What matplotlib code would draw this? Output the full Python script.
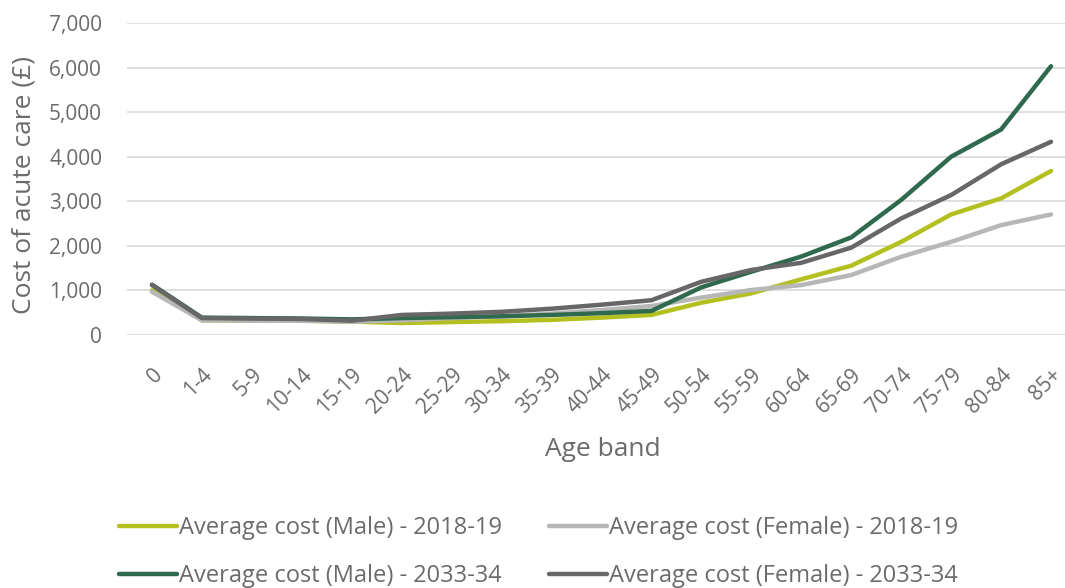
import matplotlib.pyplot as plt
import matplotlib.transforms as mtransforms
import numpy as np

plt.rcParams['font.family'] = ['Open Sans', 'DejaVu Sans']

age_bands = ['0', '1-4', '5-9', '10-14', '15-19', '20-24', '25-29', '30-34', '35-39',
             '40-44', '45-49', '50-54', '55-59', '60-64', '65-69', '70-74', '75-79',
             '80-84', '85+']

male_2018 = [1000, 330, 320, 320, 300, 270, 290, 310, 340, 390, 450, 725, 935, 1250,
             1555, 2090, 2705, 3065, 3680]
female_2018 = [970, 330, 320, 320, 300, 330, 380, 420, 480, 560, 650, 840, 1010, 1120,
               1345, 1755, 2090, 2465, 2705]
male_2033 = [1130, 390, 380, 370, 350, 380, 400, 420, 450, 490, 540, 1070, 1420, 1760,
             2190, 3030, 4000, 4610, 6030]
female_2033 = [1120, 380, 370, 360, 320, 450, 480, 520, 590, 680, 780, 1195, 1460, 1620,
               1960, 2615, 3140, 3830, 4335]

series = [
    ('Average cost (Male) - 2018-19', male_2018, '#b3c020'),
    ('Average cost (Female) - 2018-19', female_2018, '#b7b7b7'),
    ('Average cost (Male) - 2033-34', male_2033, '#2f6a4e'),
    ('Average cost (Female) - 2033-34', female_2033, '#676767'),
]

txt = '#6b6b6b'
fig = plt.figure(figsize=(10.65, 5.88), dpi=100)
ax = fig.add_axes([127 / 1065, 253 / 588, 949 / 1065, 312 / 588])

x = np.arange(len(age_bands))
lines = []
for name, vals, col in series:
    ln, = ax.plot(x, vals, color=col, lw=3.2, label=name, solid_capstyle='round',
                  solid_joinstyle='round')
    lines.append(ln)

ax.set_xlim(-0.5, len(age_bands) - 0.5)
ax.set_ylim(0, 7000)
ax.set_yticks(range(0, 7001, 1000))
ax.set_yticklabels([f'{v:,}' for v in range(0, 7001, 1000)])
ax.set_xticks(x)
ax.set_xticklabels(age_bands, rotation=45, ha='right', rotation_mode='anchor')
shift = mtransforms.ScaledTranslation(5 / 100, 0, fig.dpi_scale_trans)
for lab in ax.get_xticklabels():
    lab.set_transform(lab.get_transform() + shift)
ax.grid(axis='y', color='#d9d9d9', lw=1.2)
ax.set_axisbelow(True)
for s in ax.spines.values():
    s.set_visible(False)
ax.tick_params(length=0, labelsize=15, colors=txt)
ax.tick_params(axis='y', pad=18)
ax.tick_params(axis='x', pad=21)

ax.set_ylabel('Cost of acute care (£)', fontsize=19, color=txt)
ax.yaxis.set_label_coords(-0.095, 0.48)
ax.set_xlabel('Age band', fontsize=19, color=txt)
ax.xaxis.set_label_coords(0.5016, -0.327)

# legend filled column-wise, so order handles to read row-wise like the original
order = [0, 2, 1, 3]
fig.legend(handles=[lines[i] for i in order], loc='center', bbox_to_anchor=(0.506, 0.061),
           ncol=2, frameon=False, fontsize=17, labelcolor=txt, handlelength=2.45,
           handletextpad=0.08, columnspacing=2.0, labelspacing=1.0)

fig.savefig('out.png', dpi=100)
